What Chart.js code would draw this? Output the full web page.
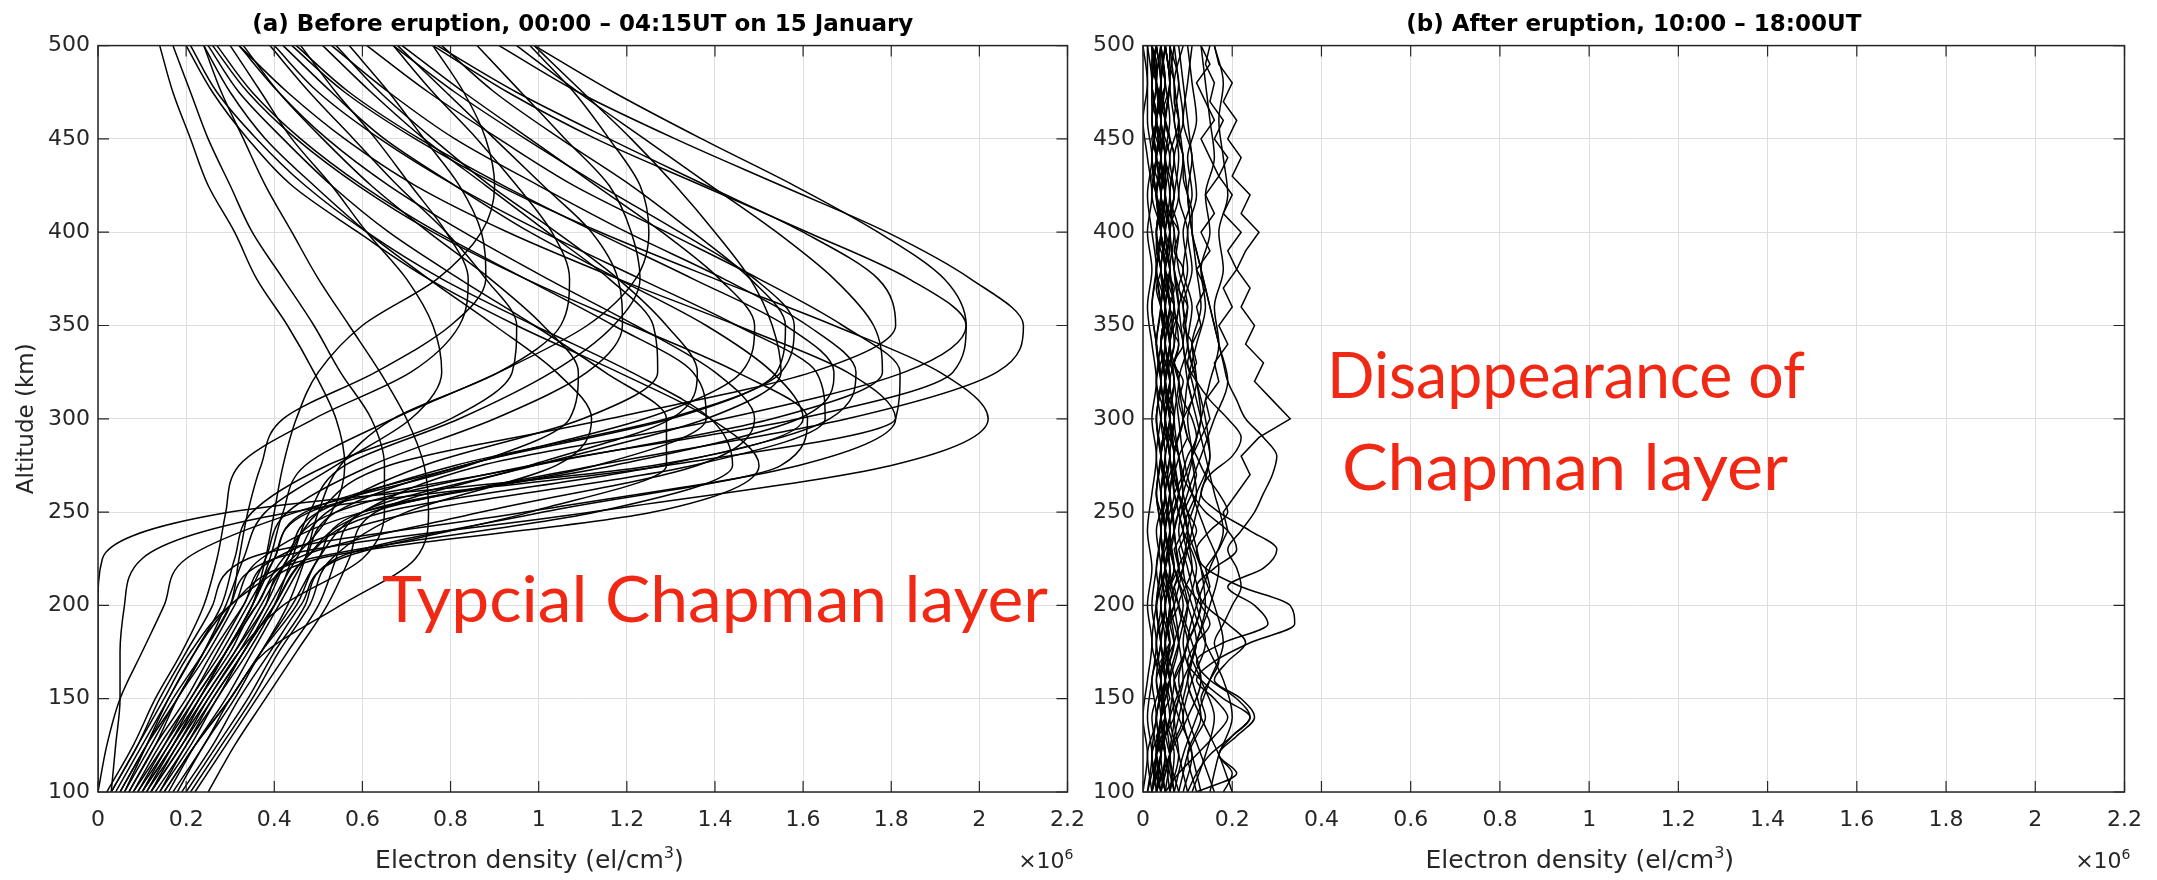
<!DOCTYPE html>
<html>
<head>
<meta charset="utf-8">
<title>Electron density profiles before / after eruption</title>
<script src="https://cdn.jsdelivr.net/npm/chart.js@4.4.1/dist/chart.umd.min.js"></script>
<style>
  body { margin: 0; background: #fff; }
  #wrap { position: relative; width: 2157px; height: 880px; }
  canvas { position: absolute; top: 0; }
</style>
</head>
<body>
<div id="wrap">
  <canvas id="chartBefore" width="1100" height="880" style="left:0"></canvas>
  <canvas id="chartAfter" width="1097" height="880" style="left:1060px"></canvas>
</div>
<script>
/* ====== Data (density in 10^6 el/cm3, altitude in km) ====== */
const altBefore = [100,125,150,175,200,225,250,275,300,325,350,375,400,425,450,475,500];
const profilesBefore = [
  [0.12,0.19,0.26,0.33,0.40,0.47,0.62,1.13,1.70,2.04,2.10,1.98,1.79,1.55,1.31,1.09,0.91],
  [0.08,0.15,0.22,0.29,0.36,0.42,0.54,0.98,1.59,1.94,1.97,1.84,1.61,1.37,1.13,0.93,0.76],
  [0.15,0.22,0.30,0.37,0.45,0.50,0.60,0.87,1.42,1.83,1.97,1.92,1.77,1.58,1.37,1.17,0.99],
  [0.10,0.17,0.24,0.31,0.38,0.43,0.50,0.66,1.16,1.62,1.81,1.77,1.60,1.38,1.16,0.95,0.77],
  [0.05,0.11,0.17,0.24,0.30,0.40,1.12,1.80,2.02,1.91,1.67,1.40,1.14,0.91,0.72,0.56,0.44],
  [0.03,0.09,0.14,0.20,0.26,0.34,0.97,1.59,1.81,1.70,1.45,1.18,0.93,0.72,0.56,0.43,0.32],
  [0.14,0.20,0.27,0.33,0.40,0.47,0.65,1.28,1.66,1.72,1.61,1.42,1.20,1.00,0.81,0.66,0.53],
  [0.18,0.24,0.31,0.37,0.44,0.50,0.60,1.17,1.59,1.67,1.56,1.35,1.13,0.92,0.73,0.57,0.45],
  [0.07,0.13,0.20,0.26,0.33,0.40,0.72,1.35,1.65,1.63,1.45,1.23,1.01,0.81,0.64,0.50,0.40],
  [0.20,0.27,0.34,0.40,0.47,0.54,1.01,1.55,1.61,1.45,1.21,0.97,0.76,0.59,0.45,0.34,0.26],
  [0.11,0.18,0.24,0.31,0.37,0.43,0.50,0.81,1.29,1.55,1.58,1.49,1.32,1.14,0.97,0.81,0.67],
  [0.16,0.22,0.29,0.35,0.41,0.47,0.54,0.83,1.30,1.54,1.56,1.48,1.35,1.21,1.05,0.90,0.78],
  [0.09,0.15,0.21,0.28,0.34,0.40,0.47,0.83,1.24,1.46,1.49,1.41,1.28,1.13,0.98,0.83,0.69],
  [0.12,0.19,0.25,0.32,0.38,0.45,0.87,1.36,1.49,1.40,1.22,1.02,0.83,0.66,0.52,0.41,0.32],
  [0.06,0.12,0.18,0.25,0.31,0.37,0.60,1.13,1.38,1.35,1.17,0.97,0.77,0.60,0.46,0.35,0.27],
  [0.13,0.20,0.26,0.33,0.39,0.45,0.52,0.74,1.10,1.27,1.26,1.16,1.02,0.88,0.74,0.62,0.51],
  [0.10,0.16,0.23,0.29,0.35,0.39,0.42,0.47,0.67,0.91,1.11,1.22,1.25,1.23,1.16,1.08,0.98],
  [0.14,0.21,0.27,0.34,0.40,0.44,0.48,0.56,0.82,1.03,1.17,1.23,1.21,1.16,1.06,0.96,0.86],
  [0.08,0.14,0.21,0.27,0.33,0.38,0.43,0.62,0.90,1.11,1.19,1.18,1.12,1.01,0.90,0.79,0.68],
  [0.17,0.24,0.30,0.37,0.43,0.47,0.50,0.55,0.67,0.91,1.05,1.07,1.03,0.95,0.86,0.76,0.67],
  [0.04,0.10,0.16,0.22,0.28,0.31,0.35,0.52,0.80,0.94,0.95,0.88,0.79,0.68,0.58,0.48,0.39],
  [0.11,0.17,0.23,0.29,0.35,0.38,0.40,0.42,0.45,0.50,0.60,0.77,0.87,0.90,0.88,0.83,0.76],
  [0.05,0.11,0.18,0.24,0.30,0.32,0.34,0.37,0.42,0.63,0.80,0.88,0.87,0.82,0.74,0.66,0.57],
  [0.02,0.08,0.13,0.19,0.24,0.27,0.29,0.32,0.49,0.71,0.82,0.84,0.79,0.71,0.63,0.54,0.46],
  [0.03,0.09,0.15,0.21,0.30,0.48,1.13,1.44,1.39,1.21,0.99,0.78,0.61,0.47,0.36,0.27,0.21],
  [0.06,0.11,0.16,0.22,0.30,0.44,0.53,0.56,0.54,0.49,0.43,0.36,0.31,0.25,0.21,0.17,0.14],
  [0.12,0.18,0.25,0.32,0.42,0.60,0.65,0.65,0.62,0.55,0.49,0.42,0.35,0.30,0.25,0.21,0.17],
  [0.15,0.22,0.30,0.38,0.55,0.72,0.75,0.74,0.70,0.64,0.57,0.50,0.44,0.38,0.33,0.28,0.24],
  [0.19,0.26,0.32,0.39,0.46,0.55,0.98,1.29,1.29,1.15,0.99,0.82,0.66,0.53,0.42,0.32,0.25],
  [0.22,0.29,0.36,0.43,0.50,0.54,0.60,0.99,1.38,1.55,1.53,1.48,1.40,1.31,1.21,1.10,0.99],
  [0.09,0.16,0.22,0.29,0.35,0.40,0.48,0.99,1.53,1.78,1.76,1.67,1.54,1.39,1.24,1.09,0.95],
  [0.00,0.00,0.00,0.00,0.00,0.01,0.30,1.26,1.60,1.53,1.38,1.18,0.98,0.81,0.65,0.53,0.42],
  [0.03,0.04,0.05,0.05,0.06,0.10,0.44,1.29,1.81,1.82,1.69,1.50,1.29,1.08,0.91,0.75,0.61],
  [0.00,0.02,0.05,0.10,0.15,0.20,0.45,0.84,1.07,1.09,1.01,0.89,0.75,0.62,0.51,0.41,0.33],
  [0.21,0.28,0.35,0.41,0.48,0.53,0.70,1.04,1.12,1.04,0.90,0.75,0.61,0.49,0.38,0.30,0.24],
  [0.25,0.31,0.38,0.45,0.52,0.57,0.63,0.98,1.30,1.36,1.29,1.18,1.04,0.89,0.76,0.64,0.54],
  [0.10,0.17,0.23,0.30,0.36,0.50,1.26,1.50,1.39,1.18,0.95,0.75,0.59,0.44,0.34,0.26,0.20],
  [0.07,0.13,0.18,0.24,0.29,0.33,0.38,0.54,0.71,0.78,0.76,0.70,0.61,0.53,0.44,0.37,0.30]
];

const altAfter = [100,120,140,160,180,200,220,240,260,280,300,320,340,360,380,400,420,440,460,480,500];
const profilesAfter = [
  [0.02,0.03,0.02,0.04,0.03,0.05,0.04,0.06,0.05,0.07,0.06,0.07,0.05,0.06,0.04,0.05,0.03,0.04,0.02,0.03,0.02],
  [0.05,0.04,0.06,0.05,0.07,0.06,0.08,0.07,0.09,0.08,0.07,0.08,0.06,0.07,0.05,0.06,0.04,0.05,0.03,0.04,0.03],
  [0.01,0.02,0.01,0.02,0.03,0.02,0.03,0.04,0.03,0.04,0.03,0.04,0.03,0.02,0.03,0.02,0.01,0.02,0.01,0.01,0.01],
  [0.08,0.06,0.09,0.07,0.10,0.08,0.11,0.10,0.12,0.11,0.13,0.12,0.10,0.11,0.09,0.10,0.08,0.09,0.07,0.08,0.06],
  [0.03,0.05,0.04,0.06,0.05,0.07,0.09,0.11,0.13,0.15,0.14,0.12,0.10,0.09,0.07,0.06,0.05,0.05,0.04,0.04,0.03],
  [0.10,0.08,0.06,0.07,0.05,0.06,0.04,0.05,0.03,0.04,0.05,0.04,0.06,0.05,0.04,0.05,0.03,0.04,0.05,0.04,0.05],
  [0.04,0.06,0.08,0.10,0.12,0.14,0.13,0.11,0.09,0.08,0.06,0.05,0.04,0.05,0.03,0.04,0.02,0.03,0.02,0.02,0.01],
  [0.06,0.07,0.05,0.04,0.06,0.05,0.07,0.06,0.08,0.07,0.09,0.08,0.10,0.09,0.11,0.10,0.12,0.11,0.10,0.09,0.08],
  [0.12,0.10,0.13,0.11,0.09,0.10,0.08,0.07,0.06,0.07,0.05,0.06,0.04,0.05,0.04,0.03,0.04,0.03,0.02,0.03,0.02],
  [0.02,0.01,0.03,0.02,0.04,0.03,0.05,0.04,0.06,0.05,0.07,0.06,0.08,0.07,0.06,0.07,0.05,0.06,0.04,0.05,0.04],
  [0.07,0.09,0.12,0.15,0.18,0.16,0.13,0.10,0.08,0.07,0.09,0.10,0.12,0.14,0.13,0.15,0.14,0.16,0.15,0.14,0.13],
  [0.15,0.17,0.20,0.18,0.14,0.11,0.09,0.10,0.08,0.06,0.07,0.05,0.06,0.04,0.05,0.03,0.04,0.02,0.03,0.02,0.02],
  [0.03,0.04,0.06,0.09,0.12,0.10,0.07,0.06,0.08,0.11,0.13,0.15,0.17,0.16,0.18,0.17,0.19,0.18,0.17,0.18,0.16],
  [0.00,0.01,0.00,0.01,0.02,0.01,0.02,0.01,0.02,0.03,0.02,0.03,0.02,0.01,0.02,0.01,0.02,0.01,0.00,0.01,0.00],
  [0.09,0.11,0.08,0.06,0.08,0.10,0.12,0.09,0.07,0.06,0.05,0.07,0.06,0.08,0.07,0.06,0.08,0.07,0.09,0.08,0.07],
  [0.05,0.03,0.04,0.06,0.08,0.07,0.06,0.05,0.04,0.06,0.04,0.03,0.05,0.04,0.03,0.04,0.03,0.05,0.04,0.06,0.05],
  [0.11,0.14,0.16,0.13,0.10,0.12,0.15,0.18,0.16,0.14,0.12,0.10,0.09,0.08,0.07,0.08,0.06,0.07,0.05,0.06,0.05],
  [0.04,0.02,0.05,0.03,0.06,0.04,0.07,0.05,0.06,0.04,0.05,0.03,0.04,0.05,0.06,0.05,0.07,0.06,0.08,0.07,0.09],
  [0.20,0.17,0.13,0.10,0.12,0.15,0.17,0.14,0.11,0.09,0.08,0.07,0.06,0.05,0.06,0.04,0.05,0.03,0.04,0.03,0.04],
  [0.06,0.08,0.07,0.09,0.08,0.06,0.05,0.07,0.09,0.11,0.10,0.12,0.11,0.13,0.12,0.11,0.10,0.11,0.09,0.10,0.11],
  [0.01,0.03,0.05,0.04,0.02,0.03,0.05,0.07,0.06,0.04,0.03,0.04,0.03,0.02,0.03,0.04,0.03,0.02,0.03,0.02,0.03],
  [0.13,0.11,0.09,0.11,0.14,0.12,0.10,0.08,0.10,0.13,0.16,0.19,0.17,0.15,0.13,0.11,0.10,0.09,0.08,0.07,0.06],
  [0.03,0.06,0.10,0.13,0.11,0.08,0.05,0.04,0.05,0.04,0.06,0.05,0.04,0.06,0.05,0.04,0.03,0.04,0.03,0.05,0.04],
  [0.07,0.05,0.03,0.05,0.07,0.09,0.07,0.05,0.04,0.03,0.04,0.05,0.07,0.08,0.10,0.09,0.11,0.10,0.12,0.11,0.10],
  [0.16,0.13,0.10,0.08,0.10,0.13,0.11,0.09,0.12,0.15,0.13,0.11,0.09,0.10,0.08,0.07,0.06,0.07,0.05,0.06,0.05],
  [0.02,0.04,0.03,0.05,0.04,0.03,0.04,0.03,0.05,0.04,0.06,0.05,0.07,0.06,0.05,0.06,0.07,0.08,0.07,0.06,0.07],
  [0.04,0.05,0.04,0.05,0.06,0.05,0.06,0.05,0.06,0.07,0.06,0.05,0.06,0.05,0.04,0.05,0.04,0.05,0.04,0.03,0.04],
  [0.03,0.04,0.05,0.04,0.05,0.04,0.05,0.06,0.05,0.06,0.05,0.06,0.05,0.04,0.05,0.04,0.03,0.04,0.03,0.04,0.03],
  [0.06,0.05,0.04,0.05,0.04,0.05,0.04,0.05,0.04,0.05,0.04,0.05,0.04,0.05,0.04,0.03,0.04,0.03,0.04,0.03,0.02],
  [0.02,0.03,0.04,0.03,0.04,0.05,0.06,0.05,0.07,0.06,0.05,0.06,0.05,0.06,0.05,0.06,0.05,0.04,0.05,0.04,0.05],
  [0.05,0.06,0.05,0.04,0.05,0.06,0.05,0.04,0.05,0.04,0.05,0.04,0.03,0.04,0.03,0.04,0.03,0.02,0.03,0.02,0.03],
  [0.04,0.03,0.04,0.05,0.04,0.03,0.04,0.05,0.04,0.05,0.06,0.05,0.06,0.07,0.06,0.05,0.06,0.05,0.06,0.05,0.04],
  [0.07,0.06,0.07,0.06,0.05,0.06,0.05,0.06,0.05,0.04,0.05,0.04,0.05,0.04,0.05,0.04,0.05,0.04,0.03,0.04,0.05],
  [0.03,0.02,0.03,0.04,0.03,0.04,0.03,0.04,0.03,0.04,0.03,0.04,0.03,0.04,0.05,0.04,0.05,0.04,0.05,0.06,0.05]
];

const altAfterFine = [100,110,120,130,140,150,160,170,180,190,200,210,220,230,240,250,260,270,280,290,
                      300,310,320,330,340,350,360,370,380,390,400,410,420,430,440,450,460,470,480,490,500];
const wavyAfter = [
  [0.05,0.08,0.12,0.16,0.19,0.16,0.12,0.16,0.24,0.34, 0.33,0.22,0.14,0.12,0.15,0.19,0.17,0.14,0.12,0.10,
   0.09,0.08,0.09,0.07,0.08,0.06,0.07,0.05,0.06,0.05, 0.04,0.05,0.04,0.05,0.03,0.04,0.03,0.04,0.03,0.03, 0.02],
  [0.10,0.12,0.15,0.20,0.24,0.21,0.15,0.12,0.18,0.28, 0.25,0.19,0.27,0.30,0.24,0.17,0.13,0.15,0.20,0.22,
   0.19,0.15,0.12,0.10,0.11,0.09,0.10,0.08,0.09,0.07, 0.08,0.06,0.07,0.06,0.05,0.06,0.05,0.04,0.05,0.04, 0.04],
  [0.18,0.20,0.17,0.21,0.25,0.22,0.16,0.19,0.23,0.19, 0.14,0.12,0.16,0.21,0.19,0.14,0.11,0.09,0.10,0.12,
   0.11,0.09,0.08,0.07,0.09,0.08,0.06,0.07,0.05,0.06, 0.05,0.04,0.05,0.04,0.03,0.04,0.03,0.04,0.03,0.02, 0.03],
  [0.08,0.09,0.10,0.12,0.14,0.13,0.15,0.17,0.16,0.18, 0.20,0.22,0.21,0.19,0.22,0.25,0.27,0.29,0.30,0.27,
   0.23,0.21,0.19,0.18,0.17,0.16,0.15,0.14,0.13,0.12, 0.11,0.11,0.10,0.09,0.09,0.08,0.08,0.07,0.07,0.06, 0.06],
  [0.12,0.21,0.17,0.20,0.24,0.18,0.13,0.10,0.12,0.15, 0.13,0.10,0.08,0.10,0.12,0.10,0.08,0.07,0.08,0.06,
   0.07,0.05,0.06,0.05,0.04,0.05,0.04,0.03,0.04,0.03, 0.03,0.04,0.03,0.02,0.03,0.02,0.03,0.02,0.02,0.03, 0.02]
];
const raggedAfter = [
  [0.04,0.05,0.06,0.05,0.07,0.08,0.07,0.09,0.10,0.12, 0.13,0.15,0.14,0.17,0.19,0.18,0.21,0.24,0.22,0.26,
   0.33,0.29,0.25,0.27,0.23,0.25,0.22,0.24,0.21,0.23, 0.26,0.22,0.24,0.20,0.22,0.19,0.21,0.18,0.20,0.17, 0.16],
  [0.02,0.03,0.04,0.03,0.05,0.04,0.06,0.05,0.07,0.06, 0.08,0.07,0.09,0.08,0.10,0.09,0.11,0.12,0.11,0.13,
   0.15,0.14,0.17,0.16,0.19,0.17,0.20,0.18,0.21,0.19, 0.22,0.18,0.20,0.17,0.19,0.16,0.18,0.15,0.16,0.14, 0.15],
  [0.03,0.04,0.03,0.05,0.04,0.06,0.05,0.04,0.06,0.05, 0.07,0.06,0.08,0.07,0.09,0.08,0.07,0.09,0.08,0.10,
   0.09,0.11,0.10,0.12,0.11,0.13,0.12,0.14,0.12,0.15, 0.13,0.16,0.14,0.17,0.15,0.13,0.16,0.14,0.12,0.15, 0.13]
];

const densityTicks = [0,0.2,0.4,0.6,0.8,1,1.2,1.4,1.6,1.8,2,2.2];
const altitudeTicks = [100,150,200,250,300,350,400,450,500];

/* ====== Look ====== */
const FONT = "'DejaVu Sans', 'Liberation Sans', sans-serif";
const INK = "#262626";
const RED = "rgb(240, 40, 20)";

document.addEventListener("DOMContentLoaded", initCharts);

function initCharts() {
  const before = profilesBefore.map(p => toLine(altBefore, p, true));
  makeChart("chartBefore", before, {
    title: "(a) Before eruption, 00:00 \u2013 04:15UT on 15 January",
    yWidth: 98, padRight: 20, yTitle: "Altitude (km)",
    notes: [{ text: "Typcial Chapman layer", left: 382, base: 622, width: 666 }]
  });

  // second canvas starts at x=1060 so its tick labels are not cut
  const after = [
    ...profilesAfter.map(p => toLine(altAfter, p, true)),
    ...wavyAfter.map(p => toLine(altAfterFine, p, true)),
    ...raggedAfter.map(p => toLine(altAfterFine, p, false))
  ];
  makeChart("chartAfter", after, {
    title: "(b) After eruption, 10:00 \u2013 18:00UT",
    yWidth: 83, padRight: 32, yTitle: "",
    notes: [
      { text: "Disappearance of", left: 267, base: 398, width: 478 },
      { text: "Chapman layer", left: 282, base: 490, width: 446 }
    ]
  });
}

/* ====== Helpers ====== */
function toLine(alts, vals, smooth) {
  return {
    data: vals.map((v, i) => ({ x: v, y: alts[i] })),
    borderColor: "#000",
    borderWidth: 1.5,
    pointRadius: 0,
    cubicInterpolationMode: smooth ? "monotone" : "default",
    tension: 0
  };
}

// text with a raised small part, e.g. el/cm^3 or x10^6
function drawSup(ctx, head, sup, tail, x, base, size, align) {
  const big = `${size}px ${FONT}`, small = `${Math.round(size * 0.65)}px ${FONT}`;
  ctx.font = big;
  const wh = ctx.measureText(head).width, wt = ctx.measureText(tail).width;
  ctx.font = small;
  const ws = ctx.measureText(sup).width;
  const total = wh + ws + wt;
  let x0 = align === "right" ? x - total : align === "center" ? x - total / 2 : x;
  ctx.textAlign = "left";
  ctx.textBaseline = "alphabetic";
  ctx.font = big;   ctx.fillText(head, x0, base);
  ctx.font = small; ctx.fillText(sup, x0 + wh, base - size * 0.42);
  ctx.font = big;   ctx.fillText(tail, x0 + wh + ws, base);
}

const frame = {
  id: "frame",
  afterDatasetsDraw(chart) {
    const { ctx, chartArea: a, scales: { x, y } } = chart;
    ctx.save();
    ctx.strokeStyle = INK;
    ctx.lineWidth = 1.2;
    ctx.beginPath();
    x.ticks.forEach(t => {
      const px = x.getPixelForValue(t.value);
      ctx.moveTo(px, a.bottom); ctx.lineTo(px, a.bottom - 11);
      ctx.moveTo(px, a.top);    ctx.lineTo(px, a.top + 11);
    });
    y.ticks.forEach(t => {
      const py = y.getPixelForValue(t.value);
      ctx.moveTo(a.left, py);  ctx.lineTo(a.left + 11, py);
      ctx.moveTo(a.right, py); ctx.lineTo(a.right - 11, py);
    });
    ctx.stroke();
    ctx.lineWidth = 1.5;
    ctx.strokeRect(a.left, a.top, a.right - a.left, a.bottom - a.top);
    ctx.restore();
  },
  afterDraw(chart, args, opts) {
    const { ctx, chartArea: a } = chart;
    ctx.save();
    ctx.fillStyle = INK;
    drawSup(ctx, "Electron density (el/cm", "3", ")", a.left + 0.445 * (a.right - a.left), 868, 25, "center");
    drawSup(ctx, "\u00d710", "6", "", a.right + 6, 868, 22, "right");

    ctx.fillStyle = RED;
    ctx.textAlign = "left";
    ctx.textBaseline = "alphabetic";
    ctx.font = "64px Lato, 'Open Sans', sans-serif";
    (opts.notes || []).forEach(n => {
      const w = ctx.measureText(n.text).width;
      ctx.save();
      ctx.translate(n.left, n.base);
      ctx.scale(n.width / w, 1);
      ctx.fillText(n.text, 0, 0);
      ctx.restore();
    });
    ctx.restore();
  }
};

function makeChart(id, datasets, cfg) {
  const tickFont = { family: FONT, size: 22 };
  const grid = { color: "#dedede", lineWidth: 1, drawTicks: false };
  return new Chart(document.getElementById(id), {
    type: "line",
    data: { datasets },
    plugins: [frame],
    options: {
      responsive: false,
      animation: false,
      devicePixelRatio: 1,
      indexAxis: "y",
      events: [],
      layout: { padding: { left: 0, right: cfg.padRight, top: 0, bottom: 0 } },
      plugins: {
        legend: { display: false },
        tooltip: { enabled: false },
        title: {
          display: true, text: cfg.title, fullSize: false, color: "#000",
          font: { family: FONT, size: 23, weight: "bold" },
          padding: { top: 11, bottom: 7 }
        },
        frame: { notes: cfg.notes }
      },
      scales: {
        x: {
          type: "linear", position: "bottom", min: 0, max: 2.2,
          afterBuildTicks: s => { s.ticks = densityTicks.map(v => ({ value: v })); },
          afterFit: s => { s.height = 88; },
          ticks: { color: INK, font: tickFont, padding: 15, maxRotation: 0, autoSkip: false,
                   callback: v => String(+(+v).toFixed(1)) },
          grid, border: { display: false }
        },
        y: {
          type: "linear", position: "left", min: 100, max: 500,
          afterBuildTicks: s => { s.ticks = altitudeTicks.map(v => ({ value: v })); },
          afterFit: s => { s.width = cfg.yWidth; },
          ticks: { color: INK, font: tickFont, padding: 8, autoSkip: false, callback: v => String(v) },
          title: { display: !!cfg.yTitle, text: cfg.yTitle, color: INK,
                   font: { family: FONT, size: 23 }, padding: { top: 13, bottom: 0 } },
          grid, border: { display: false }
        }
      }
    }
  });
}
</script>
</body>
</html>
